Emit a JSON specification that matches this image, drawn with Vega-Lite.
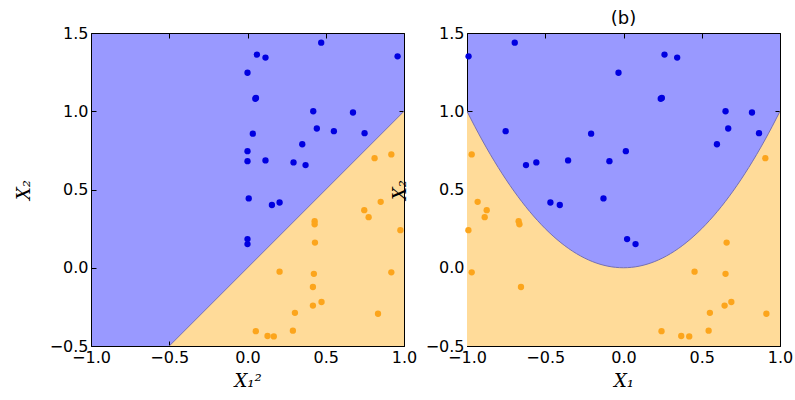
{
  "$schema": "https://vega.github.io/schema/vega-lite/v6.json",
  "background": "white",
  "padding": {"left": 14, "top": 9, "right": 5, "bottom": 5},
  "bounds": "flush",
  "spacing": 63,
  "config": {
    "view": {"stroke": "black", "strokeWidth": 1, "fill": "#9999ff"},
    "axis": {
      "domain": false, "grid": false, "tickColor": "black", "tickSize": -5, "tickWidth": 1,
      "labelFont": "DejaVu Sans", "labelFontSize": 16, "labelColor": "black", "labelPadding": 8,
      "labelFlush": false, "labelOverlap": false,
      "titleFont": "DejaVu Serif", "titleFontStyle": "italic", "titleFontWeight": "normal",
      "titleFontSize": 18, "titleColor": "black", "format": ".1f"
    },
    "axisY": {"titlePadding": 16},
    "axisX": {"titlePadding": 7},
    "title": {"font": "DejaVu Sans", "fontSize": 18, "fontWeight": "normal", "color": "black", "offset": -3}
  },
  "datasets": {
    "pts": [
      {"x1": -0.99, "x1sq": 0.959, "x2": 1.351, "cls": "blue"},
      {"x1": -0.695, "x1sq": 0.471, "x2": 1.438, "cls": "blue"},
      {"x1": -0.032, "x1sq": 0.0, "x2": 1.246, "cls": "blue"},
      {"x1": 0.262, "x1sq": 0.06, "x2": 1.362, "cls": "blue"},
      {"x1": 0.343, "x1sq": 0.115, "x2": 1.343, "cls": "blue"},
      {"x1": 0.238, "x1sq": 0.05, "x2": 1.08, "cls": "blue"},
      {"x1": 0.245, "x1sq": 0.054, "x2": 1.085, "cls": "blue"},
      {"x1": 0.652, "x1sq": 0.42, "x2": 1.0, "cls": "blue"},
      {"x1": 0.821, "x1sq": 0.674, "x2": 0.992, "cls": "blue"},
      {"x1": 0.669, "x1sq": 0.443, "x2": 0.89, "cls": "blue"},
      {"x1": 0.866, "x1sq": 0.748, "x2": 0.86, "cls": "blue"},
      {"x1": 0.597, "x1sq": 0.35, "x2": 0.789, "cls": "blue"},
      {"x1": -0.753, "x1sq": 0.552, "x2": 0.873, "cls": "blue"},
      {"x1": -0.207, "x1sq": 0.034, "x2": 0.857, "cls": "blue"},
      {"x1": 0.015, "x1sq": 0.0, "x2": 0.745, "cls": "blue"},
      {"x1": -0.09, "x1sq": 0.0, "x2": 0.681, "cls": "blue"},
      {"x1": -0.354, "x1sq": 0.115, "x2": 0.686, "cls": "blue"},
      {"x1": -0.557, "x1sq": 0.294, "x2": 0.673, "cls": "blue"},
      {"x1": -0.623, "x1sq": 0.371, "x2": 0.656, "cls": "blue"},
      {"x1": -0.467, "x1sq": 0.205, "x2": 0.417, "cls": "blue"},
      {"x1": -0.407, "x1sq": 0.156, "x2": 0.401, "cls": "blue"},
      {"x1": -0.128, "x1sq": 0.008, "x2": 0.443, "cls": "blue"},
      {"x1": 0.023, "x1sq": 0.0, "x2": 0.183, "cls": "blue"},
      {"x1": 0.077, "x1sq": 0.0, "x2": 0.151, "cls": "blue"},
      {"x1": 0.906, "x1sq": 0.812, "x2": 0.7, "cls": "orange"},
      {"x1": -0.97, "x1sq": 0.919, "x2": 0.724, "cls": "orange"},
      {"x1": -0.932, "x1sq": 0.851, "x2": 0.421, "cls": "orange"},
      {"x1": -0.874, "x1sq": 0.746, "x2": 0.368, "cls": "orange"},
      {"x1": -0.887, "x1sq": 0.774, "x2": 0.323, "cls": "orange"},
      {"x1": -0.67, "x1sq": 0.429, "x2": 0.297, "cls": "orange"},
      {"x1": -0.665, "x1sq": 0.429, "x2": 0.278, "cls": "orange"},
      {"x1": -0.991, "x1sq": 0.977, "x2": 0.24, "cls": "orange"},
      {"x1": 0.659, "x1sq": 0.431, "x2": 0.161, "cls": "orange"},
      {"x1": 0.454, "x1sq": 0.205, "x2": -0.025, "cls": "orange"},
      {"x1": 0.652, "x1sq": 0.424, "x2": -0.039, "cls": "orange"},
      {"x1": -0.97, "x1sq": 0.919, "x2": -0.029, "cls": "orange"},
      {"x1": -0.655, "x1sq": 0.418, "x2": -0.123, "cls": "orange"},
      {"x1": 0.689, "x1sq": 0.473, "x2": -0.219, "cls": "orange"},
      {"x1": 0.646, "x1sq": 0.418, "x2": -0.242, "cls": "orange"},
      {"x1": 0.552, "x1sq": 0.303, "x2": -0.288, "cls": "orange"},
      {"x1": 0.913, "x1sq": 0.834, "x2": -0.294, "cls": "orange"},
      {"x1": 0.243, "x1sq": 0.053, "x2": -0.405, "cls": "orange"},
      {"x1": 0.544, "x1sq": 0.29, "x2": -0.402, "cls": "orange"},
      {"x1": 0.369, "x1sq": 0.128, "x2": -0.436, "cls": "orange"},
      {"x1": 0.42, "x1sq": 0.168, "x2": -0.439, "cls": "orange"}
    ],
    "lin": [
      {"x": -0.5, "y": -0.5},
      {"x": 1.0, "y": 1.0}
    ],
    "par": [
      {"x": -1.0, "y": 1.0}, {"x": -0.95, "y": 0.9025}, {"x": -0.9, "y": 0.81}, {"x": -0.85, "y": 0.7225},
      {"x": -0.8, "y": 0.64}, {"x": -0.75, "y": 0.5625}, {"x": -0.7, "y": 0.49}, {"x": -0.65, "y": 0.4225},
      {"x": -0.6, "y": 0.36}, {"x": -0.55, "y": 0.3025}, {"x": -0.5, "y": 0.25}, {"x": -0.45, "y": 0.2025},
      {"x": -0.4, "y": 0.16}, {"x": -0.35, "y": 0.1225}, {"x": -0.3, "y": 0.09}, {"x": -0.25, "y": 0.0625},
      {"x": -0.2, "y": 0.04}, {"x": -0.15, "y": 0.0225}, {"x": -0.1, "y": 0.01}, {"x": -0.05, "y": 0.0025},
      {"x": 0.0, "y": 0.0}, {"x": 0.05, "y": 0.0025}, {"x": 0.1, "y": 0.01}, {"x": 0.15, "y": 0.0225},
      {"x": 0.2, "y": 0.04}, {"x": 0.25, "y": 0.0625}, {"x": 0.3, "y": 0.09}, {"x": 0.35, "y": 0.1225},
      {"x": 0.4, "y": 0.16}, {"x": 0.45, "y": 0.2025}, {"x": 0.5, "y": 0.25}, {"x": 0.55, "y": 0.3025},
      {"x": 0.6, "y": 0.36}, {"x": 0.65, "y": 0.4225}, {"x": 0.7, "y": 0.49}, {"x": 0.75, "y": 0.5625},
      {"x": 0.8, "y": 0.64}, {"x": 0.85, "y": 0.7225}, {"x": 0.9, "y": 0.81}, {"x": 0.95, "y": 0.9025},
      {"x": 1.0, "y": 1.0}
    ]
  },
  "hconcat": [
    {
      "width": 313, "height": 313,
      "resolve": {"axis": {"x": "independent", "y": "independent"}},
      "layer": [
        {
          "data": {"name": "lin"},
          "mark": {"type": "area", "color": "#ffdb99", "clip": true},
          "encoding": {
            "x": {"field": "x", "type": "quantitative", "scale": {"domain": [-1, 1], "nice": false, "zero": false},
              "axis": {"orient": "top", "values": [-1, -0.5, 0, 0.5, 1], "labels": false, "title": null}},
            "y": {"field": "y", "type": "quantitative", "scale": {"domain": [-0.5, 1.5], "nice": false, "zero": false},
              "axis": {"orient": "right", "values": [-0.5, 0, 0.5, 1, 1.5], "labels": false, "title": null}},
            "y2": {"datum": -0.5}
          }
        },
        {
          "data": {"name": "lin"},
          "mark": {"type": "line", "color": "#7570b3", "strokeWidth": 1, "clip": true},
          "encoding": {
            "x": {"field": "x", "type": "quantitative", "axis": null},
            "y": {"field": "y", "type": "quantitative", "axis": null}
          }
        },
        {
          "data": {"name": "pts"},
          "mark": {"type": "circle", "size": 40, "opacity": 1},
          "encoding": {
            "x": {"field": "x1sq", "type": "quantitative",
              "axis": {"orient": "bottom", "values": [-1, -0.5, 0, 0.5, 1], "title": "X₁²"}},
            "y": {"field": "x2", "type": "quantitative",
              "axis": {"orient": "left", "values": [-0.5, 0, 0.5, 1, 1.5], "title": "X₂"}},
            "color": {"field": "cls", "type": "nominal", "scale": {"domain": ["blue", "orange"], "range": ["#0000e0", "#fca51c"]}, "legend": null}
          }
        }
      ]
    },
    {
      "width": 313, "height": 313,
      "title": {"text": "(b)"},
      "resolve": {"axis": {"x": "independent", "y": "independent"}},
      "layer": [
        {
          "data": {"name": "par"},
          "mark": {"type": "area", "color": "#ffdb99", "clip": true, "interpolate": "monotone"},
          "encoding": {
            "x": {"field": "x", "type": "quantitative", "scale": {"domain": [-1, 1], "nice": false, "zero": false},
              "axis": {"orient": "top", "values": [-1, -0.5, 0, 0.5, 1], "labels": false, "title": null}},
            "y": {"field": "y", "type": "quantitative", "scale": {"domain": [-0.5, 1.5], "nice": false, "zero": false},
              "axis": {"orient": "right", "values": [-0.5, 0, 0.5, 1, 1.5], "labels": false, "title": null}},
            "y2": {"datum": -0.5}
          }
        },
        {
          "data": {"name": "par"},
          "mark": {"type": "line", "color": "#7570b3", "strokeWidth": 1, "clip": true, "interpolate": "monotone"},
          "encoding": {
            "x": {"field": "x", "type": "quantitative", "axis": null},
            "y": {"field": "y", "type": "quantitative", "axis": null}
          }
        },
        {
          "data": {"name": "pts"},
          "mark": {"type": "circle", "size": 40, "opacity": 1},
          "encoding": {
            "x": {"field": "x1", "type": "quantitative",
              "axis": {"orient": "bottom", "values": [-1, -0.5, 0, 0.5, 1], "title": "X₁"}},
            "y": {"field": "x2", "type": "quantitative",
              "axis": {"orient": "left", "values": [-0.5, 0, 0.5, 1, 1.5], "title": "X₂"}},
            "color": {"field": "cls", "type": "nominal", "scale": {"domain": ["blue", "orange"], "range": ["#0000e0", "#fca51c"]}, "legend": null}
          }
        }
      ]
    }
  ]
}
